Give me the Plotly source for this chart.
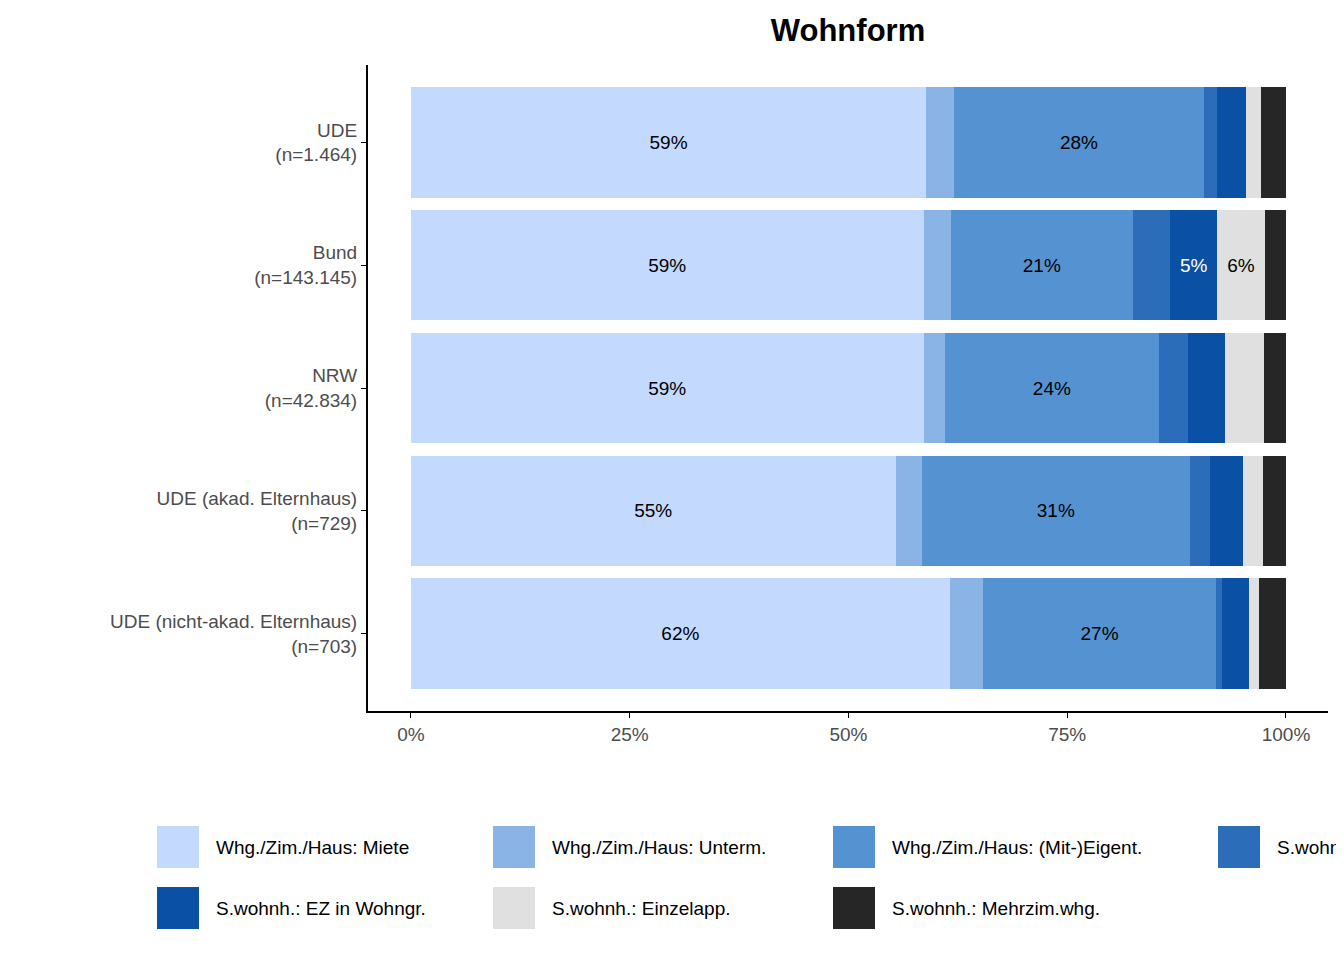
import plotly.graph_objects as go

groups = ["UDE<br>(n=1.464)", "Bund<br>(n=143.145)", "NRW<br>(n=42.834)",
          "UDE (akad. Elternhaus)<br>(n=729)", "UDE (nicht-akad. Elternhaus)<br>(n=703)"]
series = ["Whg./Zim./Haus: Miete", "Whg./Zim./Haus: Unterm.", "Whg./Zim./Haus: (Mit-)Eigent.",
          "S.wohnh.: Flurgem.", "S.wohnh.: EZ in Wohngr.", "S.wohnh.: Einzelapp.", "S.wohnh.: Mehrzim.whg."]
colors = ["#C3DAFE", "#8AB4E6", "#5592D2", "#2B6DB8", "#0A51A5", "#E0E0E0", "#262626"]
textcolors = ["black", "black", "black", "white", "white", "black", "white"]
values = [
    [58.9, 58.6, 58.6, 55.4, 61.6],
    [3.2, 3.1, 2.4, 3.0, 3.8],
    [28.5, 20.8, 24.5, 30.6, 26.6],
    [1.5, 4.3, 3.3, 2.3, 0.7],
    [3.3, 5.3, 4.2, 3.8, 3.1],
    [1.7, 5.5, 4.5, 2.3, 1.1],
    [2.9, 2.4, 2.5, 2.6, 3.1],
]

fig = go.Figure()
for name, col, tc, vals in zip(series, colors, textcolors, values):
    fig.add_trace(go.Bar(
        y=groups, x=vals, orientation="h", name=name, marker=dict(color=col, line=dict(width=0)),
        text=[f"{v:.0f}%" if v >= 5 else "" for v in vals], textposition="inside",
        insidetextanchor="middle", textangle=0,
        textfont=dict(color=tc, size=19, family="Liberation Sans, Arial"),
        showlegend=False, width=0.9))

W, H = 1344, 960
OFF = 8
L, R, T, B = 368 - OFF, 16 + OFF, 65 - OFF, 249 + OFF
pw, ph = W - L - R, H - T - B
def px(x): return (x - OFF - L) / pw
def py(y): return (H - B - (y - OFF)) / ph

shapes, ann = [], []
cols = [157, 493, 833, 1218]
rows = [847, 908]
for i, (name, col) in enumerate(zip(series, colors)):
    cx = cols[i % 4]; cy = rows[i // 4]
    shapes.append(dict(type="rect", xref="paper", yref="paper", x0=px(cx), x1=px(cx + 42),
                       y0=py(cy + 21), y1=py(cy - 21), fillcolor=col, line=dict(width=0)))
    ann.append(dict(xref="paper", yref="paper", x=px(cx + 57), y=py(cy), text=name, showarrow=False,
                    xanchor="left", yanchor="middle", font=dict(size=19, color="black")))

fig.update_layout(
    barmode="stack", width=W, height=H, plot_bgcolor="white", paper_bgcolor="white",
    margin=dict(l=L, r=R, t=T, b=B),
    font=dict(family="Liberation Sans, Arial"),
    title=dict(text="<b>Wohnform</b>", x=(848 - OFF) / W, xanchor="center",
               y=1 - (30 - OFF) / H, yanchor="middle", font=dict(size=31, color="black")),
    xaxis=dict(range=[-4.9, 104.8], tickvals=[0, 25, 50, 75, 100],
               ticktext=["0%", "25%", "50%", "75%", "100%"], showgrid=False, zeroline=False,
               showline=True, linecolor="black", linewidth=2, ticks="outside", ticklen=5,
               tickcolor="black", tickfont=dict(size=19, color="#4d4d4d")),
    yaxis=dict(showgrid=False, showline=True, linecolor="black", linewidth=2,
               ticks="outside", ticklen=5, tickcolor="black", tickfont=dict(size=19, color="#4d4d4d"),
               autorange=False, range=[4.63, -0.63]),
    shapes=shapes, annotations=ann,
)
fig.write_html("out.html")
